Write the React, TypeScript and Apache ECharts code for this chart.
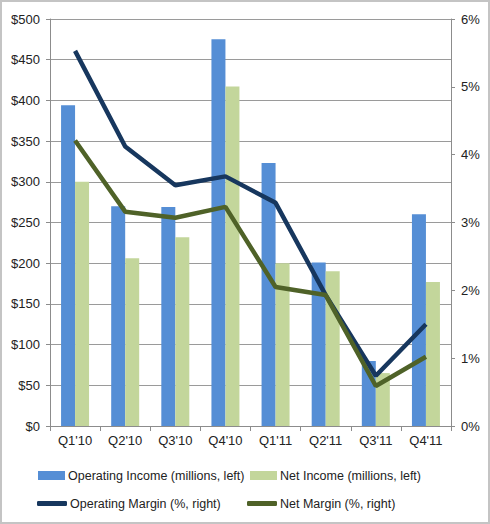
import React, { useEffect, useRef } from "react";
import * as echarts from "echarts";

const categories = ["Q1'10", "Q2'10", "Q3'10", "Q4'10", "Q1'11", "Q2'11", "Q3'11", "Q4'11"];
const operatingIncome = [394, 270, 269, 475, 323, 201, 80, 260];
const netIncome = [300, 206, 232, 417, 200, 190, 65, 177];
const operatingMargin = [5.53, 4.12, 3.55, 3.68, 3.29, 1.93, 0.74, 1.5];
const netMargin = [4.21, 3.16, 3.07, 3.23, 2.05, 1.93, 0.59, 1.02];

const FONT = "Liberation Sans";
const TXT = "#222";

export default function App() {
  const ref = useRef<HTMLDivElement>(null);
  useEffect(() => {
    if (!ref.current) return;
    const chart = echarts.init(ref.current, undefined, { renderer: "svg" });
    const legendText = { fontFamily: FONT, fontSize: 12.5, color: TXT, padding: [0, 0, 0, -2] };
    const legendBase = { padding: 0, selectedMode: false, textStyle: legendText };
    chart.setOption({
      animation: false,
      backgroundColor: "#fff",
      grid: { left: 50, right: 39, top: 19, bottom: 98 },
      xAxis: {
        type: "category",
        data: categories,
        boundaryGap: true,
        axisLine: { lineStyle: { color: "#8c8c8c", width: 1 } },
        axisTick: { show: true, length: 5, lineStyle: { color: "#8c8c8c" } },
        axisLabel: { fontFamily: FONT, fontSize: 13, color: TXT, margin: 8 },
      },
      yAxis: [
        {
          type: "value",
          min: 0,
          max: 500,
          interval: 50,
          axisLine: { show: true, lineStyle: { color: "#8c8c8c" } },
          axisTick: { show: true, length: 4, lineStyle: { color: "#8c8c8c" } },
          splitLine: { show: true, lineStyle: { color: "#9a9a9a", width: 1 } },
          axisLabel: {
            fontFamily: FONT,
            fontSize: 13,
            color: TXT,
            margin: 10,
            formatter: (v: number) => "$" + v,
          },
        },
        {
          type: "value",
          min: 0,
          max: 6,
          interval: 1,
          position: "right",
          axisLine: { show: true, lineStyle: { color: "#8c8c8c" } },
          axisTick: { show: true, length: 4, lineStyle: { color: "#8c8c8c" } },
          splitLine: { show: false },
          axisLabel: {
            fontFamily: FONT,
            fontSize: 13,
            color: TXT,
            margin: 10,
            formatter: (v: number) => v + "%",
          },
        },
      ],
      legend: [
        {
          ...legendBase,
          data: [{ name: "Operating Income (millions, left)", icon: "rect" }],
          left: 38,
          top: 469,
          itemWidth: 27,
          itemHeight: 9,
        },
        {
          ...legendBase,
          data: [{ name: "Net Income (millions, left)", icon: "rect" }],
          left: 250,
          top: 469,
          itemWidth: 27,
          itemHeight: 9,
        },
        {
          ...legendBase,
          data: [{ name: "Operating Margin (%, right)", icon: "roundRect" }],
          left: 37,
          top: 497,
          itemWidth: 30,
          itemHeight: 5,
        },
        {
          ...legendBase,
          data: [{ name: "Net Margin (%, right)", icon: "roundRect" }],
          left: 247,
          top: 497,
          itemWidth: 30,
          itemHeight: 5,
        },
      ],
      graphic: [
        {
          type: "rect",
          shape: { x: 1, y: 1, width: 488, height: 522 },
          style: { fill: "none", stroke: "#c4c4c4", lineWidth: 2 },
          silent: true,
        },
      ],
      series: [
        {
          name: "Operating Income (millions, left)",
          type: "bar",
          yAxisIndex: 0,
          data: operatingIncome,
          barWidth: 14,
          barGap: "0%",
          itemStyle: { color: "#558ed5" },
        },
        {
          name: "Net Income (millions, left)",
          type: "bar",
          yAxisIndex: 0,
          data: netIncome,
          barWidth: 14,
          barGap: "0%",
          itemStyle: { color: "#c3d69b" },
        },
        {
          name: "Operating Margin (%, right)",
          type: "line",
          yAxisIndex: 1,
          data: operatingMargin,
          showSymbol: false,
          symbol: "none",
          lineStyle: { color: "#17375e", width: 4.5 },
          itemStyle: { color: "#17375e" },
        },
        {
          name: "Net Margin (%, right)",
          type: "line",
          yAxisIndex: 1,
          data: netMargin,
          showSymbol: false,
          symbol: "none",
          lineStyle: { color: "#4f6228", width: 4.5 },
          itemStyle: { color: "#4f6228" },
        },
      ],
    });
    return () => chart.dispose();
  }, []);
  return (
    <div
      ref={ref}
      style={{ position: "fixed", left: 0, top: 0, width: 490, height: 524 }}
    />
  );
}
